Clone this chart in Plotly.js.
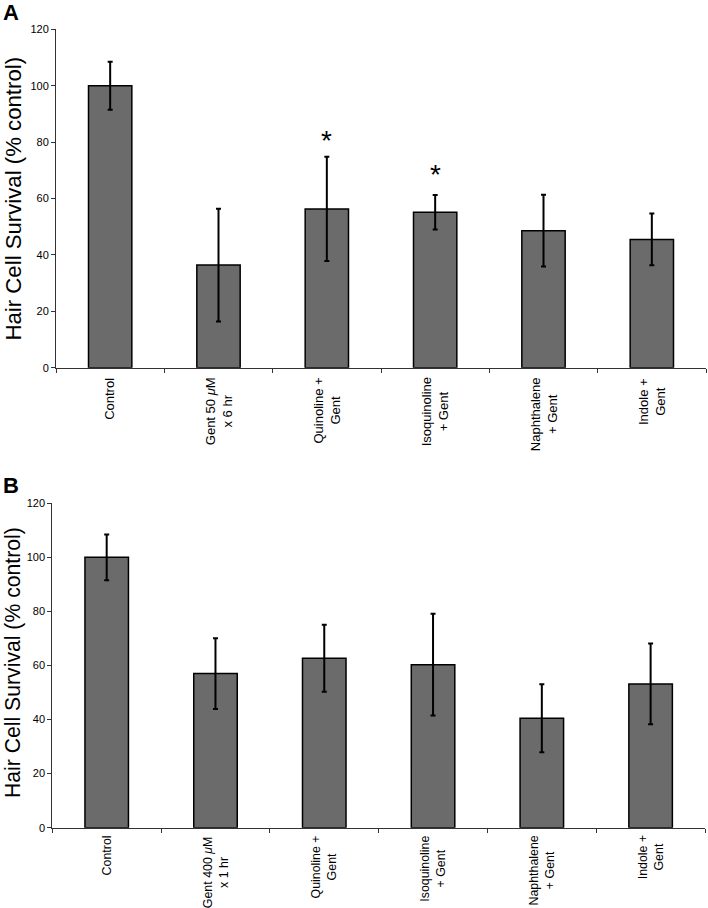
<!DOCTYPE html>
<html>
<head>
<meta charset="utf-8">
<script src="https://cdn.plot.ly/plotly-3.0.1.min.js"></script>
<style>html,body{margin:0;padding:0;background:#fff}#chart{width:708px;height:908px}</style>
</head>
<body>
<div id="chart"></div>
<script>
// ---- data ----
const catsA = ["Control", "Gent 50 <i>μ</i>M<br>x 6 hr", "Quinoline +<br>Gent", "Isoquinoline<br>+ Gent", "Naphthalene<br>+ Gent", "Indole +<br>Gent"];
const valsA = [100, 36.4, 56.3, 55.1, 48.6, 45.5];
const errA  = [8.5, 20.0, 18.5, 6.1, 12.7, 9.2];
const starIdxA = [2, 3];
const starYA   = [81.7, 69.4];

const catsB = ["Control", "Gent 400 <i>μ</i>M<br>x 1 hr", "Quinoline +<br>Gent", "Isoquinoline<br>+ Gent", "Naphthalene<br>+ Gent", "Indole +<br>Gent"];
const valsB = [100, 57.0, 62.7, 60.3, 40.5, 53.2];
const errB  = [8.5, 13.1, 12.4, 18.8, 12.6, 14.9];

const yTicks = [0, 20, 40, 60, 80, 100, 120];
const yTitle = "Hair Cell Survival (% control)";
const panelLabels = ["A", "B"];

// ---- layout helpers ----
const W = 708, H = 908;
const FONT = "Liberation Sans, Arial, Helvetica, sans-serif";
const px = v => v / W;
const py = v => (H - v) / H;

const xdomA = [px(56), px(706)], ydomA = [py(367.7), py(29.3)];
const xdomB = [px(52.3), px(705)], ydomB = [py(827.7), py(503.3)];

function barTrace(cats, vals, errs, xa, ya) {
  return {
    type: "bar", x: cats, y: vals, xaxis: xa, yaxis: ya, width: 0.4,
    marker: {color: "#6b6b6b", line: {color: "#000", width: 1.5}},
    error_y: {type: "data", array: errs, visible: true, color: "#000", thickness: 2, width: 2.5},
    hoverinfo: "skip", showlegend: false
  };
}

function xAxis(dom, anchor) {
  return {
    domain: dom, anchor: anchor, type: "category", range: [-0.5, 5.5],
    showline: true, linecolor: "#333", linewidth: 1,
    ticks: "outside", tickson: "boundaries", ticklen: 4, tickcolor: "#333",
    showticklabels: false, showgrid: false, zeroline: false, fixedrange: true
  };
}
function yAxis(dom, anchor) {
  return {
    domain: dom, anchor: anchor, range: [0, 120], tickvals: yTicks,
    showline: true, linecolor: "#333", linewidth: 1,
    ticks: "outside", ticklen: 4, tickcolor: "#333",
    tickfont: {size: 11, color: "#000", family: FONT},
    showgrid: false, zeroline: false, automargin: false
  };
}

const annotations = [];
function catLabels(cats, xref, yTopPaper, size) {
  cats.forEach(c => annotations.push({
    x: c, xref: xref, y: yTopPaper, yref: "paper",
    text: c, textangle: -90, showarrow: false,
    xanchor: "center", yanchor: "top", align: "center",
    font: {size: size, color: "#000", family: FONT}
  }));
}
catLabels(catsA, "x", ydomA[0] - 8 / H, 13);
catLabels(catsB, "x2", ydomB[0] - 6 / H, 12.4);

starIdxA.forEach((i, k) => annotations.push({
  x: catsA[i], xref: "x", y: starYA[k], yref: "y",
  text: "*", showarrow: false, xanchor: "center", yanchor: "middle",
  yshift: -3, font: {size: 28, color: "#000", family: FONT}
}));

// y-axis titles
annotations.push({x: px(13), xref: "paper", y: py(198.5), yref: "paper",
  xanchor: "center", yanchor: "middle", textangle: -90, text: yTitle, showarrow: false,
  font: {size: 22.2, color: "#000", family: FONT}});
annotations.push({x: px(13), xref: "paper", y: py(663), yref: "paper",
  xanchor: "center", yanchor: "middle", textangle: -90, text: yTitle, showarrow: false,
  font: {size: 21.2, color: "#000", family: FONT}});

// panel letters
annotations.push({x: 0, xref: "paper", y: 1, yref: "paper", xanchor: "left", yanchor: "top",
  xshift: 1, yshift: 2, text: "<b>" + panelLabels[0] + "</b>", showarrow: false,
  font: {size: 22, color: "#000", family: FONT}});
annotations.push({x: 0, xref: "paper", y: py(471), yref: "paper", xanchor: "left", yanchor: "top",
  xshift: 1, text: "<b>" + panelLabels[1] + "</b>", showarrow: false,
  font: {size: 22, color: "#000", family: FONT}});

const layout = {
  width: W, height: H,
  margin: {l: 0, r: 0, t: 0, b: 0},
  paper_bgcolor: "#fff", plot_bgcolor: "#fff",
  font: {family: FONT, color: "#000"},
  showlegend: false,
  xaxis: xAxis(xdomA, "y"), yaxis: yAxis(ydomA, "x"),
  xaxis2: xAxis(xdomB, "y2"), yaxis2: yAxis(ydomB, "x2"),
  annotations: annotations
};

Plotly.newPlot("chart", [
  barTrace(catsA, valsA, errA, "x", "y"),
  barTrace(catsB, valsB, errB, "x2", "y2")
], layout, {staticPlot: true, displayModeBar: false});
</script>
</body>
</html>
